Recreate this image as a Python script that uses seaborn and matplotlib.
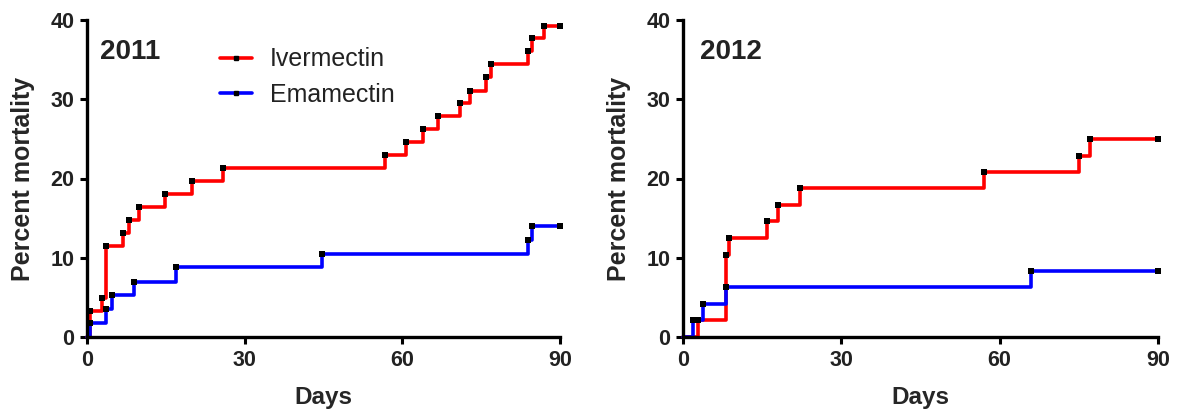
import numpy as np
import pandas as pd
import matplotlib
matplotlib.use("Agg")
import matplotlib.pyplot as plt
from matplotlib.lines import Line2D
import seaborn as sns

# Cumulative mortality (%) by day, Kaplan-Meier style step data
days_2011_iver = [0, 0.6, 2.8, 3.7, 6.8, 7.9, 9.8, 14.8, 19.9, 25.9, 56.7, 60.7,
                  63.9, 66.7, 71.0, 72.9, 75.9, 76.8, 84.0, 84.7, 87.0, 90]
pct_2011_iver = [0, 3.3, 4.9, 11.5, 13.1, 14.8, 16.4, 18.0, 19.7, 21.3, 23.0, 24.6,
                 26.2, 27.9, 29.5, 31.1, 32.8, 34.4, 36.1, 37.7, 39.3, 39.3]

days_2011_ema = [0, 0.6, 3.7, 4.8, 8.9, 16.9, 44.7, 84.0, 84.7, 90]
pct_2011_ema = [0, 1.8, 3.5, 5.3, 7.0, 8.8, 10.5, 12.3, 14.0, 14.0]

days_2012_iver = [0, 2.9, 8.2, 8.8, 15.9, 18.0, 22.1, 57.1, 75.0, 77.1, 90]
pct_2012_iver = [0, 2.1, 10.4, 12.5, 14.6, 16.7, 18.8, 20.8, 22.9, 25.0, 25.0]

days_2012_ema = [0, 1.9, 3.8, 8.1, 66.0, 90]
pct_2012_ema = [0, 2.1, 4.2, 6.3, 8.3, 8.3]

treatments = ["Ivermectin", "Emamectin"]
colors = {"Ivermectin": "#ff0000", "Emamectin": "#0000ff"}
x_ticks = [0, 30, 60, 90]
y_ticks = [0, 10, 20, 30, 40]


def frame(days, pct, treatment, year):
    return pd.DataFrame({"Days": days, "pct": pct, "Treatment": treatment, "Year": year})


df = pd.concat([
    frame(days_2011_iver, pct_2011_iver, "Ivermectin", "2011"),
    frame(days_2011_ema, pct_2011_ema, "Emamectin", "2011"),
    frame(days_2012_iver, pct_2012_iver, "Ivermectin", "2012"),
    frame(days_2012_ema, pct_2012_ema, "Emamectin", "2012"),
], ignore_index=True)

sns.set_theme(style="ticks")
plt.rcParams["font.family"] = ["Liberation Sans", "DejaVu Sans"]

fig = plt.figure(figsize=(11.77, 4.16), dpi=100)
axes = [fig.add_axes([87 / 1177, 1 - 337 / 416, 473 / 1177, 317 / 416]),
        fig.add_axes([683 / 1177, 1 - 337 / 416, 475 / 1177, 317 / 416])]

for ax, year in zip(axes, ["2011", "2012"]):
    sub = df[df["Year"] == year]
    for trt in treatments:
        d = sub[sub["Treatment"] == trt]
        sns.lineplot(data=d, x="Days", y="pct", ax=ax, color=colors[trt],
                     drawstyle="steps-post", estimator=None, sort=True,
                     linewidth=2.6, clip_on=False, legend=False)
    # censor marks at each step corner
    marks = sub[sub["Days"] > 0]
    sns.scatterplot(data=marks, x="Days", y="pct", ax=ax, color="black",
                    marker="s", s=13, linewidth=0, clip_on=False, legend=False,
                    zorder=5)

    ax.set_xlim(0, 90)
    ax.set_ylim(0, 40)
    ax.set_xticks(x_ticks)
    ax.set_yticks(y_ticks)
    ax.set_xlabel("Days", fontsize=17.5, fontweight="bold", labelpad=11)
    ax.set_ylabel("Percent mortality", fontsize=18, fontweight="bold", labelpad=11)
    for lab in ax.get_xticklabels() + ax.get_yticklabels():
        lab.set_fontweight("bold")
    ax.tick_params(axis="both", labelsize=15.5, width=2.2, length=5,
                   color="black", labelcolor="#222222", pad=4)
    for side in ["left", "bottom"]:
        ax.spines[side].set_linewidth(2.4)
        ax.spines[side].set_color("black")
    sns.despine(ax=ax)
    ax.set_facecolor("white")
    ax.text(0.027 if year == "2011" else 0.036, 0.9, year, transform=ax.transAxes,
            fontsize=20, fontweight="bold", va="center", ha="left", color="#222222")

handles = [Line2D([0], [0], color=colors[t], lw=2.6, marker="s", markersize=3.5,
                  markerfacecolor="black", markeredgecolor="black") for t in treatments]
axes[0].legend(handles, treatments, loc="upper left", bbox_to_anchor=(0.26, 0.945),
               frameon=False, fontsize=18, handlelength=1.3, handletextpad=0.7,
               labelspacing=0.45, borderaxespad=0, labelcolor="#222222")

fig.savefig("out.png", dpi=100, facecolor="white")
